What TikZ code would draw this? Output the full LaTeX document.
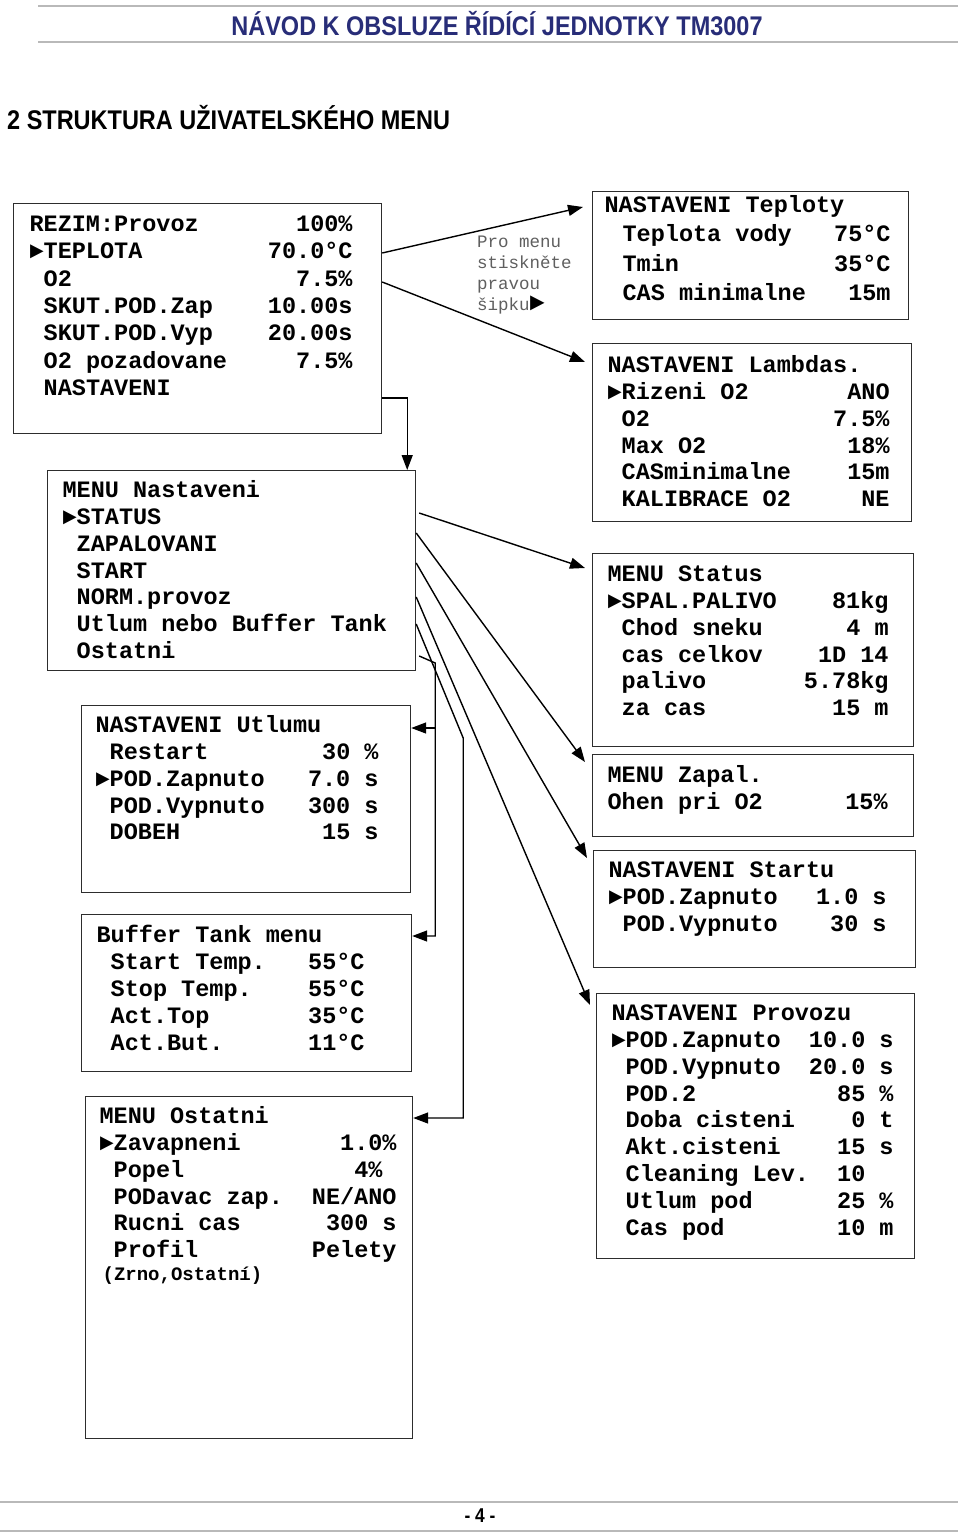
\documentclass[tikz,border=0pt]{standalone}
\usepackage{fontspec}
\setmonofont{Liberation Mono}
\newfontfamily\headfont[FakeStretch=0.87]{Liberation Sans}
\usepackage{tikz}
\usetikzlibrary{arrows.meta, positioning, calc}
\definecolor{titleblue}{RGB}{40,45,120}
\definecolor{rulegray}{RGB}{185,185,185}
\definecolor{boxgray}{RGB}{45,45,45}
\definecolor{hintgray}{RGB}{95,95,95}
% one LCD screen: [baselineskip]{width}{height}{left pad}{right pad}{top pad}{rows}
\newcommand{\lcdscreen}[7][26.8]{%
  \parbox[c][#3pt][t]{#2pt}{\fontsize{23.5pt}{#1pt}\selectfont
    \leftskip=#4pt\rightskip=#5pt\parfillskip=0pt plus 1fil
    \lineskiplimit=-100pt\vspace*{#6pt}#7}}
\newcommand{\lcdrow}[2]{\rule{0pt}{17pt}#1\hfill#2\par}
\tikzset{
  lcd/.style={rectangle, draw=boxgray, line width=1.2pt, inner sep=0pt,
    anchor=north west, font=\ttfamily\bfseries},
  hint/.style={inner sep=0pt, anchor=base west, text=hintgray,
    font=\ttfamily\mdseries},
  arrow/.style={-{Triangle[length=15pt,width=11pt]}, line width=1.4pt, color=black},
  line/.style={line width=1.4pt, color=black},
  rule/.style={line width=1.5pt, color=rulegray}
}

\begin{document}
\begin{tikzpicture}[x=1pt, y=-1pt]
  \useasboundingbox (0,0) rectangle (960,1534);

  % page head
  \draw[rule] (38,6) -- (958,6);
  \draw[rule] (38,42) -- (958,42);
  \node[font=\headfont\bfseries\fontsize{27pt}{27pt}\selectfont, text=titleblue] (title) at (497,24)
    {NÁVOD K OBSLUZE ŘÍDÍCÍ JEDNOTKY TM3007};
  \node[font=\headfont\bfseries\fontsize{27pt}{27pt}\selectfont, anchor=west, inner sep=0pt] (heading) at (7,118)
    {2 STRUKTURA UŽIVATELSKÉHO MENU};

  % left column
  \node[lcd] (rezim) at (13,203) {\lcdscreen[27.3]{368}{230}{16}{29}{11}{%
    \lcdrow{REZIM:Provoz}{100\%}
    \lcdrow{►TEPLOTA}{70.0°C}
    \lcdrow{~O2}{7.5\%}
    \lcdrow{~SKUT.POD.Zap}{10.00s}
    \lcdrow{~SKUT.POD.Vyp}{20.00s}
    \lcdrow{~O2 pozadovane}{7.5\%}
    \lcdrow{~NASTAVENI}{}}};

  \node[lcd] (nast) at (47,470) {\lcdscreen{368}{200}{15}{10}{10}{%
    \lcdrow{MENU Nastaveni}{}
    \lcdrow{►STATUS}{}
    \lcdrow{~ZAPALOVANI}{}
    \lcdrow{~START}{}
    \lcdrow{~NORM.provoz}{}
    \lcdrow{~Utlum nebo Buffer Tank}{}
    \lcdrow{~Ostatni}{}}};

  \node[lcd] (utlum) at (81,705) {\lcdscreen{329}{187}{14}{32}{10}{%
    \lcdrow{NASTAVENI Utlumu}{}
    \lcdrow{~Restart}{30 \%}
    \lcdrow{►POD.Zapnuto}{7.0 s}
    \lcdrow{~POD.Vypnuto}{300 s}
    \lcdrow{~DOBEH}{15 s}}};

  \node[lcd] (buffer) at (81,914) {\lcdscreen{330}{157}{15}{47}{11}{%
    \lcdrow{Buffer Tank menu}{}
    \lcdrow{~Start Temp.}{55°C}
    \lcdrow{~Stop Temp.}{55°C}
    \lcdrow{~Act.Top}{35°C}
    \lcdrow{~Act.But.}{11°C}}};

  \node[lcd] (ostatni) at (85,1096) {\lcdscreen{327}{342}{14}{16}{10}{%
    \lcdrow{MENU Ostatni}{}
    \lcdrow{►Zavapneni}{1.0\%}
    \lcdrow{~Popel}{4\%\hphantom{0}}
    \lcdrow{~PODavac zap.}{NE/ANO}
    \lcdrow{~Rucni cas}{300 s}
    \lcdrow{~Profil}{Pelety}
    {\fontsize{19pt}{23pt}\selectfont\hspace*{3pt}(Zrno,Ostatní)\par}}};

  % hint
  \node[hint] (hinttxt) at (477,247) {\parbox[t]{130pt}{\fontsize{17.5pt}{21pt}\selectfont
    Pro menu\\stiskněte\\pravou\\šipku{\color{black}\fontsize{25pt}{21pt}\selectfont►}}};

  % right column
  \node[lcd] (teploty) at (592,191) {\lcdscreen[29.3]{316}{128}{12}{18}{4}{%
    \lcdrow{NASTAVENI Teploty}{}
    \lcdrow{\hspace*{18pt}Teplota vody}{75°C}
    \lcdrow{\hspace*{18pt}Tmin}{35°C}
    \lcdrow{\hspace*{18pt}CAS minimalne}{15m}}};

  \node[lcd] (lambda) at (592,343) {\lcdscreen{319}{178}{15}{22}{12}{%
    \lcdrow{NASTAVENI Lambdas.}{}
    \lcdrow{►Rizeni O2}{ANO}
    \lcdrow{~O2}{7.5\%}
    \lcdrow{~Max O2}{18\%}
    \lcdrow{~CASminimalne}{15m}
    \lcdrow{~KALIBRACE O2}{NE}}};

  \node[lcd] (status) at (592,553) {\lcdscreen{321}{193}{15}{25}{11}{%
    \lcdrow{MENU Status}{}
    \lcdrow{►SPAL.PALIVO}{81kg}
    \lcdrow{~Chod sneku}{4 m}
    \lcdrow{~cas celkov}{1D 14}
    \lcdrow{~palivo}{5.78kg}
    \lcdrow{~za cas}{15 m}}};

  \node[lcd] (zapal) at (592,754) {\lcdscreen{321}{82}{15}{26}{11}{%
    \lcdrow{MENU Zapal.}{}
    \lcdrow{Ohen pri O2}{15\%}}};

  \node[lcd] (startu) at (593,850) {\lcdscreen{322}{117}{15}{29}{10}{%
    \lcdrow{NASTAVENI Startu}{}
    \lcdrow{►POD.Zapnuto}{1.0 s}
    \lcdrow{~POD.Vypnuto}{30 s}}};

  \node[lcd] (provozu) at (596,993) {\lcdscreen{318}{265}{15}{21}{10}{%
    \lcdrow{NASTAVENI Provozu}{}
    \lcdrow{►POD.Zapnuto}{10.0 s}
    \lcdrow{~POD.Vypnuto}{20.0 s}
    \lcdrow{~POD.2}{85 \%}
    \lcdrow{~Doba cisteni}{0 t}
    \lcdrow{~Akt.cisteni}{15 s}
    \lcdrow{~Cleaning Lev.}{10\hphantom{00}}
    \lcdrow{~Utlum pod}{25 \%}
    \lcdrow{~Cas pod}{10 m}}};

  % arrows from the main screen
  \draw[arrow] ([yshift=-50pt]rezim.north east) -- ([shift={(-9pt,-16pt)}]teploty.north west);
  \draw[arrow] ([yshift=-79pt]rezim.north east) -- ([shift={(-7pt,-19pt)}]lambda.north west);
  \draw[arrow] ([yshift=-195pt]rezim.north east) -| ([xshift=-9pt]nast.north east);

  % arrows from MENU Nastaveni
  \draw[arrow] ([shift={(3pt,-43pt)}]nast.north east) -- ([shift={(-7pt,-15pt)}]status.north west);
  \draw[arrow] ([yshift=-63pt]nast.north east) -- ([shift={(-7pt,-8pt)}]zapal.north west);
  \draw[arrow] ([yshift=-93pt]nast.north east) -- ([shift={(-6pt,-8pt)}]startu.north west);
  \draw[arrow] ([yshift=-127pt]nast.north east) -- ([shift={(-6pt,-12pt)}]provozu.north west);
  \draw[arrow] ([yshift=-154pt]nast.north east) -- ++(47pt,-114pt) |- ([yshift=-22pt]ostatni.north east);
  \coordinate (utlumin) at ([yshift=-23pt]utlum.north east);
  \draw[arrow] ([shift={(3pt,-186pt)}]nast.north east) -- ++(16pt,-7pt) coordinate (fork)
    |- ([yshift=-22pt]buffer.north east);
  \draw[arrow] (fork |- utlumin) -- (utlumin);

  % page foot
  \draw[rule] (0,1502) -- (958,1502);
  \draw[rule] (0,1531) -- (958,1531);
  \node[font=\headfont\bfseries\fontsize{20pt}{20pt}\selectfont] (pageno) at (480,1516) {- 4 -};
\end{tikzpicture}
\end{document}
